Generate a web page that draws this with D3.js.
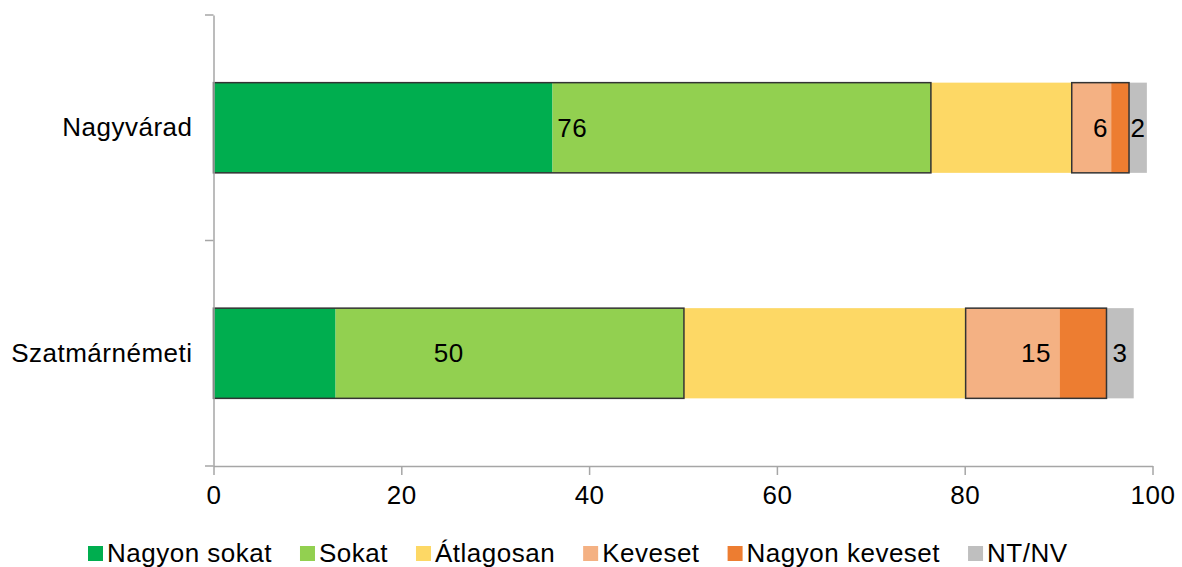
<!DOCTYPE html>
<html>
<head>
<meta charset="utf-8">
<script src="https://cdn.jsdelivr.net/npm/d3@7"></script>
<style>
  body { margin: 0; background: #fff; }
  svg text { font-family: "Liberation Sans", Arial, sans-serif; fill: #000; letter-spacing: 0.5px; }
</style>
</head>
<body>
<div id="chart"></div>
<script>
// categories and answer series (percent)
var cities = ["Nagyvárad", "Szatmárnémeti"];
var series = ["Nagyon sokat", "Sokat", "Átlagosan", "Keveset", "Nagyon keveset", "NT/NV"];
var colors = ["#00ae4f", "#92d050", "#fdd865", "#f4b183", "#ed7d31", "#bfbfbf"];
var values = [
  [36.1, 40.3, 15.0, 4.2, 1.9, 1.9],   // Nagyvárad
  [13.0, 37.1, 30.0, 10.0, 5.0, 2.9]   // Szatmárnémeti
];
// summed groups: which series, outlined or not
var groups = [
  { from: 0, to: 1, outline: true },
  { from: 3, to: 4, outline: true },
  { from: 5, to: 5, outline: false }
];
var xTicks = [0, 20, 40, 60, 80, 100];

const W = 1182, H = 567;
const svg = d3.select('#chart').append('svg').attr('width', W).attr('height', H);

const x = d3.scaleLinear().domain([0, 100]).range([213.5, 1152.5]);
const y = d3.scaleBand().domain(cities).range([15, 466]).paddingInner(0.6).paddingOuter(0.3);

// stacked data
var rows = cities.map((c, i) => {
  var o = { city: c };
  series.forEach((s, j) => o[s] = values[i][j]);
  return o;
});
var stacked = d3.stack().keys(series)(rows);

svg.append('g').selectAll('g').data(stacked).enter().append('g')
  .attr('fill', (d, i) => colors[i])
  .selectAll('rect').data(d => d).enter().append('rect')
  .attr('x', d => x(d[0]))
  .attr('y', d => y(d.data.city))
  .attr('width', d => x(d[1]) - x(d[0]))
  .attr('height', y.bandwidth());

// group outlines + labels
cities.forEach((c, i) => {
  groups.forEach(g => {
    var start = d3.sum(values[i].slice(0, g.from));
    var total = d3.sum(values[i].slice(g.from, g.to + 1));
    var x0 = x(start), x1 = x(start + total);
    if (g.outline) {
      svg.append('rect')
        .attr('x', x0).attr('y', y(c))
        .attr('width', x1 - x0).attr('height', y.bandwidth())
        .attr('fill', 'none').attr('stroke', '#333').attr('stroke-width', 1.5);
    }
    svg.append('text')
      .attr('x', (x0 + x1) / 2).attr('y', y(c) + y.bandwidth() / 2)
      .attr('text-anchor', 'middle').attr('dy', '0.35em')
      .style('font-size', '26px')
      .text(Math.round(total));
  });
});

// axes
const axisColor = '#a6a6a6';
const xAxis = svg.append('g').attr('transform', 'translate(0,466)')
  .call(d3.axisBottom(x).tickValues(xTicks).tickSize(9).tickSizeOuter(0).tickPadding(11));
const yAxis = svg.append('g').attr('transform', 'translate(213.5,0)')
  .call(d3.axisLeft(y).tickSize(0).tickPadding(21));
// category boundary ticks on y axis
var yBounds = [15, 15 + y.step(), 466];
svg.append('g').selectAll('line').data(yBounds).enter().append('line')
  .attr('x1', 205).attr('x2', 213.5).attr('y1', d => d).attr('y2', d => d)
  .attr('stroke', axisColor).attr('stroke-width', 1.5);

[xAxis, yAxis].forEach(a => {
  a.select('.domain').attr('stroke', axisColor).attr('stroke-width', 1.5);
  a.selectAll('.tick line').attr('stroke', axisColor).attr('stroke-width', 1.5);
  a.selectAll('text').style('font-size', '26px').attr('fill', '#000')
    .style('font-family', '"Liberation Sans", Arial, sans-serif');
});

// legend
const legend = svg.append('g').attr('transform', 'translate(88,0)');
var lx = 0;
series.forEach((s, i) => {
  var item = legend.append('g').attr('transform', `translate(${lx},0)`);
  item.append('rect').attr('x', 0).attr('y', 546).attr('width', 15).attr('height', 15).attr('fill', colors[i]);
  var t = item.append('text').attr('x', 19).attr('y', 562).style('font-size', '26px').text(s);
  lx += 19 + t.node().getComputedTextLength() + 28;
});
</script>
</body>
</html>
